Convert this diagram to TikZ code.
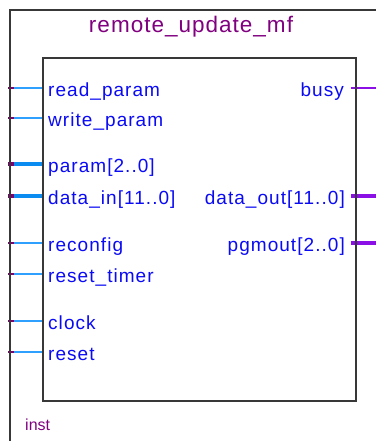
\documentclass[tikz,border=0pt]{standalone}
\usepackage{fontspec}
\setmainfont{Liberation Sans}
\begin{document}
\begin{tikzpicture}[x=1pt,y=-1pt,
  pinlbl/.style={font=\fontsize{19}{22}\selectfont\addfontfeature{LetterSpace=5.5}, text=lblblue, inner sep=0pt},
  thinin/.style={draw=pinblue, line width=1.6pt},
  busin/.style={draw=busblue, line width=4pt},
  thinout/.style={draw=outpurple, line width=1.6pt},
  busout/.style={draw=outpurple, line width=4.5pt},
  stub/.style={draw=stubpurple, line width=4pt},
  thinstub/.style={draw=stubpurple, line width=1.6pt},
  frame/.style={draw=framegray, line width=2pt}]
\definecolor{lblblue}{HTML}{0A0AF5}
\definecolor{pinblue}{HTML}{30A0FF}
\definecolor{busblue}{HTML}{0A8CF0}
\definecolor{outpurple}{HTML}{8A10E6}
\definecolor{stubpurple}{HTML}{800070}
\definecolor{titlepurple}{HTML}{800080}
\definecolor{framegray}{HTML}{383838}
\useasboundingbox[fill=white] (0,0) rectangle (375,441);
% outer frame
\coordinate (fb) at (10,442);
\coordinate (ft) at (10,10);
\coordinate (fr) at (376,10);
% left pin coordinates
\foreach \n/\y in {rp/88, wp/118, pa/164, di/196, rc/243, rt/274, ck/321, rs/352}{
  \coordinate (\n o) at (8,\y);
  \coordinate (\n s) at (14,\y);
  \coordinate (\n i) at (44,\y);
}
\foreach \n/\y in {bu/88, do/196, pg/243}{
  \coordinate (\n i) at (351,\y);
  \coordinate (\n o) at (376,\y);
}
% pins
\foreach \n in {rp, wp, rc, rt, ck, rs}{
  \draw[thinin] (\n s) -- (\n i);
  \draw[thinstub] (\n o) -- (\n s);
}
\foreach \n in {pa, di}{
  \draw[busin] (\n s) -- (\n i);
  \draw[stub] (\n o) -- (\n s);
}
\draw[thinout] (bui) -- (buo);
\draw[busout] (doi) -- (doo);
\draw[busout] (pgi) -- (pgo);
% frames
\draw[frame] (fb) -- (ft) -- (fr);
\node[frame, draw, rectangle, minimum width=313pt, minimum height=343pt, inner sep=0pt, anchor=north west] (box) at (42,57) {};
% title
\node[font=\fontsize{22.5}{26}\selectfont\addfontfeature{LetterSpace=4.5}, text=titlepurple, inner sep=0pt, anchor=base] (title) at (191,33) {remote\_update\_mf};
\node[font=\fontsize{16}{19}\selectfont, text=titlepurple, inner sep=0pt, anchor=base west] (inst) at (25,430) {inst};
% left labels
\node[pinlbl, anchor=base west] (lrp) at (48,96) {read\_param};
\node[pinlbl, anchor=base west] (lwp) at (48,126) {write\_param};
\node[pinlbl, anchor=base west] (lpa) at (48,172) {param[2..0]};
\node[pinlbl, anchor=base west] (ldi) at (48,204) {data\_in[11..0]};
\node[pinlbl, anchor=base west] (lrc) at (48,251) {reconfig};
\node[pinlbl, anchor=base west] (lrt) at (48,282) {reset\_timer};
\node[pinlbl, anchor=base west] (lck) at (48,329) {clock};
\node[pinlbl, anchor=base west] (lrs) at (48,360) {reset};
% right labels
\node[pinlbl, anchor=base east] (lbu) at (344,96) {busy};
\node[pinlbl, anchor=base east] (ldo) at (345,204) {data\_out[11..0]};
\node[pinlbl, anchor=base east] (lpg) at (345,251) {pgmout[2..0]};
\end{tikzpicture}
\end{document}
